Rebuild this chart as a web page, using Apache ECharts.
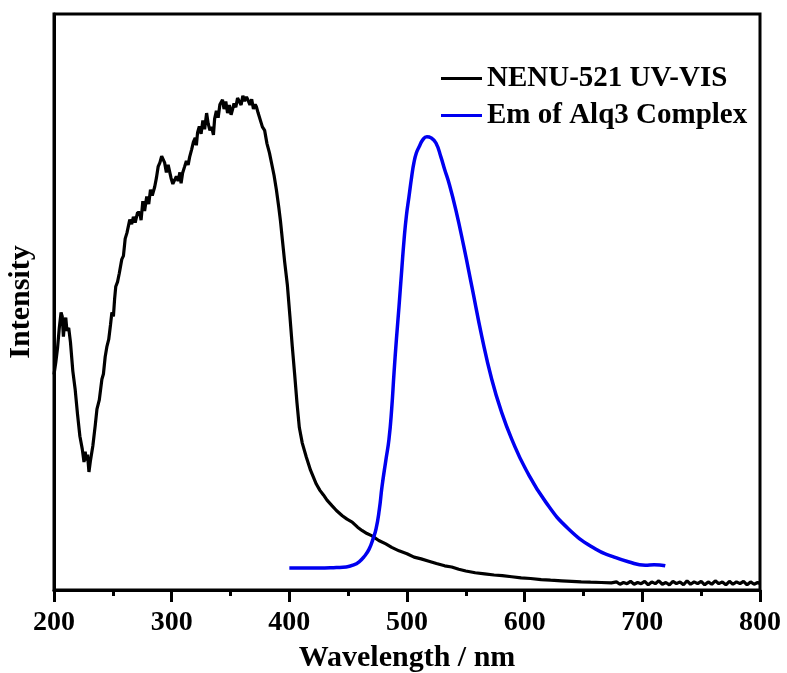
<!DOCTYPE html>
<html>
<head>
<meta charset="utf-8">
<script src="https://cdn.jsdelivr.net/npm/echarts@6/dist/echarts.min.js"></script>
<style>
  html, body { margin: 0; padding: 0; background: #fff; }
  #main { width: 787px; height: 673px; }
</style>
</head>
<body>
<div id="main"></div>
<script>
// x ticks
const xTicks = [200, 300, 400, 500, 600, 700, 800]

// NENU-521 UV-VIS absorbance (wavelength nm, intensity a.u.)
const uvVis = [
  [200, 37.4], [201.5, 39.5], [203, 42], [204.5, 45.5], [206, 48.2], [207, 47.5], [208, 44], [209, 46.5],
  [210, 47.3], [211, 45], [212.5, 45.5], [214, 43], [216, 38], [218, 34.8], [220, 30.5], [222, 26.7],
  [224, 24.5], [225.5, 22.2], [226.5, 24], [227.5, 22.5], [228.5, 23.5], [229.7, 20.5], [231, 22.5], [233, 25],
  [235, 28.5], [236.5, 31.4], [238.5, 33], [240.7, 36.6], [242, 37.5], [243.5, 40.5], [245, 42.3], [246.5, 43.5],
  [248, 46], [249.2, 48.2], [250.5, 47.5], [251.5, 50.5], [252.5, 52.7], [254, 53.5], [255.5, 55], [257.6, 57.4],
  [259, 58], [260.5, 61], [262, 62], [264.4, 64.3], [266, 63.5], [267.5, 64.8], [269, 63.8], [271, 65.5],
  [272.9, 65.5], [274, 64.2], [275.5, 67.5], [277, 65.8], [278.8, 68.3], [280.5, 67], [282, 69.5], [283.5, 68.5],
  [285.6, 70], [287, 71.5], [288.5, 73.5], [290, 74.2], [291.5, 75.3], [292.4, 75], [294, 74.2], [295.5, 72.5],
  [297, 73.8], [298.3, 73.5], [299.5, 71.5], [301, 70.5], [302.5, 70.7], [304, 71.8], [305.5, 71], [307, 72.5],
  [308, 70.6], [309.3, 72.4], [311, 73.5], [312.5, 74.5], [314, 73.8], [315.3, 75.2], [317, 76.5], [318.5, 77.8],
  [320, 78.5], [321, 77.2], [322, 79.4], [323.5, 80.5], [325, 79.2], [326.5, 81.5], [328, 80], [329.7, 82.8],
  [331, 81], [332.5, 79.8], [334, 80.4], [335.5, 79], [336.5, 81.8], [338, 83.2], [339.5, 82], [341, 84.3],
  [343.2, 85.1], [344.5, 83.5], [346, 84.8], [347.5, 82.8], [349, 84.2], [350.5, 82.5], [351.7, 83.4], [353, 84.5],
  [354.5, 83.8], [356, 85.4], [357.6, 85.1], [359, 84.2], [360.5, 85.8], [362, 84.9], [363.6, 85.6], [365, 85],
  [366.5, 84.2], [368, 85.2], [369.5, 83.5], [371, 84.3], [372, 83.9], [373.5, 82.8], [375, 82.5], [377.1, 80.4],
  [379, 79.8], [381, 77.5], [383.1, 75.9], [385, 74], [387, 72], [389, 69.5], [391, 66.5], [392.5, 64],
  [394.1, 60.8], [396, 57], [398.3, 53], [400.5, 47.5], [402.5, 42.3], [404.5, 37.5], [406.5, 32.5], [408.5, 28.2],
  [411, 25.5], [414.4, 23.1], [418, 20.8], [422.9, 18.4], [426, 17.3], [429, 16.5], [432, 15.6], [436.4, 14.6],
  [440, 13.8], [445, 12.9], [449, 12.3], [453.4, 11.8], [458, 10.9], [462, 10.3], [466, 9.8], [470.3, 9.4],
  [476, 8.6], [482, 8.0], [487, 7.4], [493.2, 6.8], [500, 6.3], [506, 5.7], [512, 5.4], [518.6, 5.0],
  [525, 4.6], [532, 4.2], [538, 4.0], [544, 3.6], [550, 3.3], [558, 3.0], [566, 2.8], [574, 2.6],
  [581, 2.5], [589, 2.3], [597, 2.1], [605, 2.0], [614, 1.8], [622, 1.7], [631.4, 1.6], [640, 1.5],
  [648, 1.4], [656, 1.35], [665, 1.3], [673.7, 1.25], [678, 1.4], [681, 1.0], [684, 1.3], [687, 1.1],
  [690, 1.5], [693, 1.0], [696, 1.3], [699, 1.1], [702, 1.5], [705, 0.9], [708, 1.4], [711, 1.1],
  [714, 1.6], [717, 1.0], [720, 1.3], [723, 0.9], [726, 1.5], [729, 1.1], [732, 1.4], [735, 0.9],
  [738, 1.6], [741, 1.0], [744, 1.4], [747, 1.1], [750, 1.5], [753, 0.9], [756, 1.4], [759, 1.0],
  [762, 1.6], [765, 1.1], [768, 1.4], [771, 0.9], [774, 1.5], [777, 1.0], [780, 1.4], [783, 1.1],
  [786, 1.5], [789, 0.9], [792, 1.4], [795, 1.0], [798, 1.3], [800, 1.1]
]

// Emission of Alq3 complex
const alq3Em = [
  [400, 3.8], [410, 3.8], [425, 3.8], [440, 3.9], [448.3, 4.0], [454, 4.3], [459.3, 4.9], [464, 5.9],
  [467.8, 7.1], [471, 8.8], [473.7, 10.6], [476.5, 14], [478.8, 18.0], [482, 22.5], [484.7, 26.2], [487, 31.5],
  [489, 37.8], [491, 43.5], [493.2, 49.2], [495.5, 55.5], [497.5, 60.8], [499.5, 65], [501.7, 68.3], [504, 71.8],
  [505.9, 74.2], [508, 75.9], [510.2, 76.9], [513.5, 78.2], [516.9, 78.7], [520.5, 78.5], [524.6, 77.6], [528.8, 75.2],
  [532, 73], [535.6, 70.7], [541.5, 66.0], [548.3, 59.6], [555.1, 52.7], [563.6, 44.0], [572.0, 36.6], [580.5, 30.8],
  [589.0, 26.2], [600.8, 21.0], [617.8, 15.3], [637.3, 10.6], [660.2, 7.1], [675, 5.8], [688.1, 4.9], [702.5, 4.3],
  [710, 4.4], [719.5, 4.2]
]

const seriesNames = ['NENU-521 UV-VIS', 'Em of Alq3 Complex']

const font = '"Liberation Serif", "Times New Roman", serif'
const chart = echarts.init(document.getElementById('main'))

const option = {
  animation: false,
  grid: {
    left: 54, right: 27, top: 14, bottom: 83,
    outerBoundsMode: 'none',
    containLabel: false,
    show: true,
    borderColor: '#000',
    borderWidth: 3
  },
  legend: {
    left: 441,
    top: 64,
    padding: 0,
    orient: 'vertical',
    itemGap: 8,
    itemWidth: 41,
    itemHeight: 3,
    icon: 'rect',
    data: seriesNames,
    textStyle: {
      fontFamily: font,
      fontWeight: 'bold',
      fontSize: 29,
      color: '#000'
    }
  },
  xAxis: {
    type: 'value',
    min: xTicks[0],
    max: xTicks[xTicks.length - 1],
    interval: 100,
    name: 'Wavelength / nm',
    nameLocation: 'middle',
    nameGap: 53,
    nameTextStyle: {
      fontFamily: font,
      fontWeight: 'bold',
      fontSize: 30,
      color: '#000'
    },
    axisLine: { show: true, lineStyle: { color: '#000', width: 3 } },
    axisTick: { show: true, inside: false, length: 12, lineStyle: { color: '#000', width: 3 } },
    minorTick: { show: true, splitNumber: 2, length: 6, lineStyle: { color: '#000', width: 3 } },
    splitLine: { show: false },
    axisLabel: {
      margin: 19,
      fontFamily: font,
      fontWeight: 'bold',
      fontSize: 28,
      color: '#000'
    }
  },
  yAxis: {
    type: 'value',
    min: 0,
    max: 100,
    name: 'Intensity',
    nameLocation: 'middle',
    nameGap: 18,
    nameRotate: 90,
    nameTextStyle: {
      fontFamily: font,
      fontWeight: 'bold',
      fontSize: 30,
      color: '#000'
    },
    axisLine: { show: true, lineStyle: { color: '#000', width: 3 } },
    axisTick: { show: false },
    axisLabel: { show: false },
    splitLine: { show: false }
  },
  series: [
    {
      name: seriesNames[0],
      type: 'line',
      data: uvVis,
      showSymbol: false,
      symbol: 'none',
      color: '#000',
      lineStyle: { color: '#000', width: 3.2 }
    },
    {
      name: seriesNames[1],
      type: 'line',
      data: alq3Em,
      showSymbol: false,
      symbol: 'none',
      smooth: 0.5,
      color: '#0000f0',
      lineStyle: { color: '#0000f0', width: 3.5 }
    }
  ]
}
chart.setOption(option)
</script>
</body>
</html>
